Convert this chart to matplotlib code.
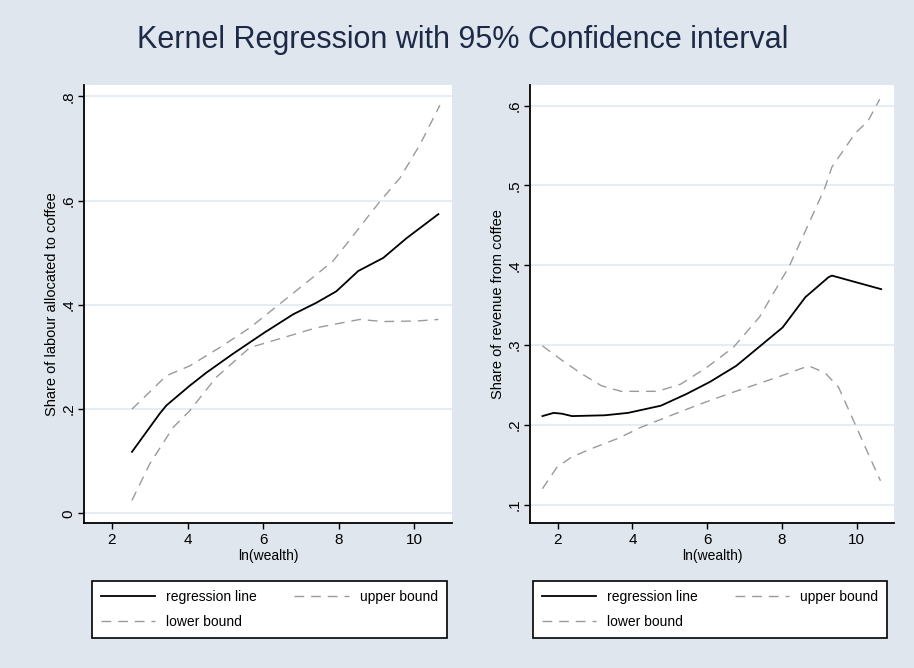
#!/usr/bin/env python3
"""
Kernel regression with 95% confidence interval, two panels (Stata-like look)
"""

import matplotlib
matplotlib.use('Agg')
import matplotlib.pyplot as plt
import numpy as np

# Left panel: share of labour allocated to coffee
labour_x = [2.53, 3.26, 3.44, 4.06, 4.5, 5.2, 6.04, 6.8, 7.41, 7.94, 8.52, 9.18, 9.8, 10.64]
labour_reg = [0.118, 0.191, 0.207, 0.245, 0.27, 0.306, 0.347, 0.382, 0.404, 0.426, 0.465, 0.49, 0.528, 0.574]

labour_up_x = [2.53, 3.44, 4.06, 4.85, 5.65, 6.53, 7.41, 7.85, 8.3, 8.74, 9.09, 9.62, 10.15, 10.68]
labour_up = [0.2, 0.264, 0.283, 0.318, 0.356, 0.407, 0.458, 0.484, 0.525, 0.566, 0.598, 0.643, 0.707, 0.783]

labour_lo_x = [2.53, 3.0, 3.62, 4.06, 4.76, 5.65, 6.53, 7.41, 8.12, 8.56, 9.18, 10.06, 10.64]
labour_lo = [0.025, 0.095, 0.165, 0.197, 0.261, 0.318, 0.337, 0.356, 0.366, 0.372, 0.368, 0.369, 0.372]

# Right panel: share of revenue from coffee
rev_x = [1.59, 1.89, 2.11, 2.38, 3.26, 3.88, 4.76, 5.46, 6.08, 6.78, 7.22, 8.02, 8.63, 9.25, 9.34, 10.66]
rev_reg = [0.211, 0.215, 0.214, 0.211, 0.212, 0.215, 0.224, 0.239, 0.254, 0.274, 0.291, 0.322, 0.36, 0.385, 0.387, 0.370]

rev_up_x = [1.59, 2.11, 2.64, 3.17, 3.70, 4.67, 5.29, 5.99, 6.70, 7.40, 8.19, 8.72, 9.16, 9.34, 9.96, 10.31, 10.62]
rev_up = [0.299, 0.281, 0.264, 0.249, 0.242, 0.242, 0.251, 0.272, 0.297, 0.335, 0.398, 0.452, 0.498, 0.523, 0.565, 0.581, 0.608]

rev_lo_x = [1.59, 1.98, 2.38, 3.0, 3.61, 4.23, 4.93, 5.81, 6.70, 7.40, 8.02, 8.72, 9.16, 9.52, 9.96, 10.31, 10.64]
rev_lo = [0.120, 0.147, 0.160, 0.172, 0.183, 0.197, 0.210, 0.226, 0.241, 0.252, 0.262, 0.274, 0.265, 0.247, 0.201, 0.164, 0.130]

x_ticks = [2, 4, 6, 8, 10]
labour_ticks = [0, 0.2, 0.4, 0.6, 0.8]
labour_tick_labels = ['0', '.2', '.4', '.6', '.8']
rev_ticks = [0.1, 0.2, 0.3, 0.4, 0.5, 0.6]
rev_tick_labels = ['.1', '.2', '.3', '.4', '.5', '.6']

BG = '#dfe6ee'
GRID = '#e2e9f1'
BOUND = '#9a9a9a'

plt.rcParams['font.family'] = ['Liberation Sans', 'DejaVu Sans']

fig = plt.figure(figsize=(9.14, 6.68), dpi=100, facecolor=BG)
fig.text(0.506, 0.94, 'Kernel Regression with 95% Confidence interval',
         ha='center', va='center', fontsize=22, color='#1c2a48')


def draw_panel(rect, x, reg, ux, up, lx, lo, yticks, ylabels, ylim, ylabel, leg_rect):
    ax = fig.add_axes(rect)
    ax.set_facecolor('white')
    for yt in yticks:
        ax.axhline(yt, color=GRID, lw=1.2, zorder=0)
    ax.plot(x, reg, color='black', lw=1.3, label='regression line')
    ax.plot(ux, up, color=BOUND, lw=1.0, dashes=(7, 5), label='upper bound')
    ax.plot(lx, lo, color=BOUND, lw=1.0, dashes=(7, 5), label='lower bound')
    ax.set_xlim(1.26, 11.0)
    ax.set_ylim(*ylim)
    ax.set_xticks(x_ticks)
    ax.set_yticks(yticks)
    ax.set_yticklabels(ylabels, rotation=90, va='center')
    ax.tick_params(labelsize=11, length=4, width=1, colors='black')
    ax.tick_params(axis='y', pad=2)
    for s in ['top', 'right']:
        ax.spines[s].set_visible(False)
    for s in ['left', 'bottom']:
        ax.spines[s].set_linewidth(1.3)
    ax.set_xlabel('ln(wealth)', fontsize=10, labelpad=1)
    ax.set_ylabel(ylabel, fontsize=10.5, labelpad=2)

    handles, labels = ax.get_legend_handles_labels()
    # column-first fill: reg, lower in col 1, upper in col 2
    order = [0, 2, 1]
    leg = ax.legend([handles[i] for i in order], [labels[i] for i in order],
                    loc='upper left', bbox_to_anchor=leg_rect,
                    bbox_transform=fig.transFigure, mode='expand', ncol=2,
                    fontsize=10, frameon=True, fancybox=False, framealpha=1,
                    facecolor='white', edgecolor='black', handlelength=3.9,
                    borderaxespad=0, borderpad=0.65, labelspacing=0.8,
                    handletextpad=0.8, columnspacing=1.0)
    leg.get_frame().set_linewidth(1.2)
    return ax


draw_panel([0.0919, 0.217, 0.4026, 0.656], labour_x, labour_reg,
           labour_up_x, labour_up, labour_lo_x, labour_lo,
           labour_ticks, labour_tick_labels, (-0.0185, 0.822),
           'Share of labour allocated to coffee',
           (0.1007, 0.0449, 0.388, 0.0853))

draw_panel([0.580, 0.217, 0.398, 0.656], rev_x, rev_reg,
           rev_up_x, rev_up, rev_lo_x, rev_lo,
           rev_ticks, rev_tick_labels, (0.077, 0.626),
           'Share of revenue from coffee',
           (0.583, 0.0449, 0.388, 0.0853))

plt.savefig('out.png', dpi=100, facecolor=BG)
plt.close()
